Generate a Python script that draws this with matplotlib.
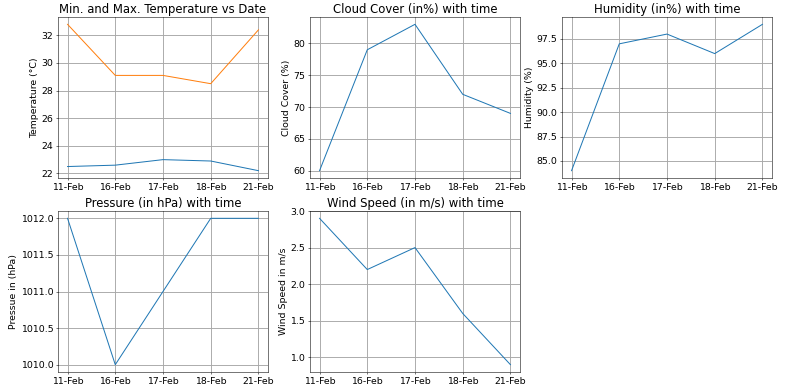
import numpy as np
import pandas as pd
import matplotlib
matplotlib.use('Agg')
import matplotlib.pyplot as plt

# weather readings per date
dates = ['11-Feb', '16-Feb', '17-Feb', '18-Feb', '21-Feb']
temp_min = [22.5, 22.6, 23.0, 22.9, 22.2]
temp_max = [32.8, 29.1, 29.1, 28.5, 32.4]
cloud = [60, 79, 83, 72, 69]
humidity = [84, 97, 98, 96, 99]
pressure = [1012, 1010, 1011, 1012, 1012]
wind = [2.9, 2.2, 2.5, 1.6, 0.9]

dpi = 48
plt.rcParams['font.size'] = 14
plt.rcParams['axes.titlesize'] = 17.5
plt.rcParams['grid.linewidth'] = 1.4
plt.rcParams['grid.color'] = '#a8a8a8'
fig = plt.figure(figsize=(786 / dpi, 390 / dpi), dpi=dpi)

plt.subplot(2, 3, 1)
plt.plot(dates, temp_min)
plt.plot(dates, temp_max)
plt.title('Min. and Max. Temperature vs Date')
plt.ylabel('Temperature (°C)')
plt.grid(True)

plt.subplot(2, 3, 2)
plt.plot(dates, cloud)
plt.title('Cloud Cover (in%) with time')
plt.ylabel('Cloud Cover (%)')
plt.grid(True)

plt.subplot(2, 3, 3)
plt.plot(dates, humidity)
plt.title('Humidity (in%) with time')
plt.ylabel('Humidity (%)')
plt.grid(True)

plt.subplot(2, 3, 4)
plt.plot(dates, pressure)
plt.title('Pressure (in hPa) with time')
plt.ylabel('Pressue in (hPa)')
plt.grid(True)

plt.subplot(2, 3, 5)
plt.plot(dates, wind)
plt.title('Wind Speed (in m/s) with time')
plt.ylabel('Wind Speed in m/s')
plt.grid(True)

plt.subplots_adjust(left=58 / 786, right=772 / 786, top=1 - 17 / 390,
                    bottom=1 - 372 / 390, wspace=0.2, hspace=0.205)
plt.savefig('out.png', dpi=dpi)
